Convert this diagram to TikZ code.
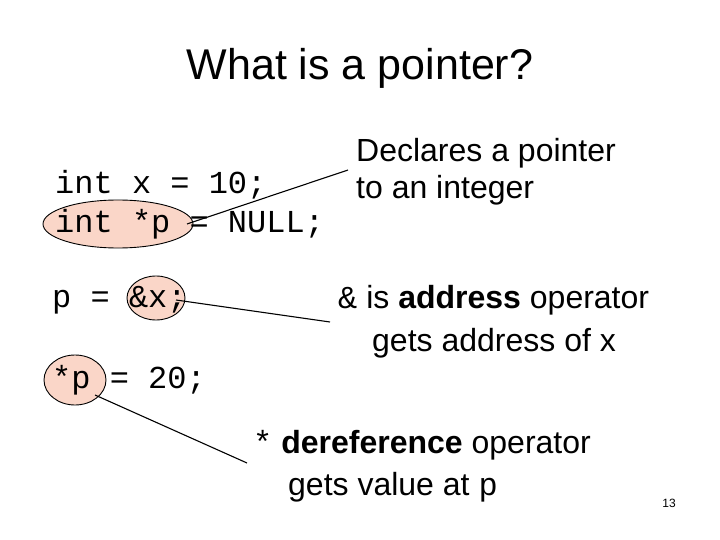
\documentclass[tikz,border=0pt]{standalone}
\usepackage{fontspec}
\setmainfont{Liberation Sans}
\newfontfamily\mono{Liberation Mono}
\definecolor{hlpink}{RGB}{250,214,200}
\begin{document}
\begin{tikzpicture}[x=1pt,y=-1pt,
  code/.style={anchor=west,inner sep=0,font=\fontsize{32}{34}\selectfont\mono},
  txt/.style={anchor=west,inner sep=0,font=\fontsize{32}{35}\selectfont},
  hl/.style={draw=black,fill=hlpink,line width=0.9pt},
  lead/.style={draw=black,line width=1.1pt}]
\useasboundingbox (0,0) rectangle (720,540);
\fill[white] (0,0) rectangle (720,540);
\node[inner sep=0,font=\fontsize{43}{46}\selectfont] (title) at (360,68) {What is a pointer?};
\draw[hl] (118,224) ellipse [x radius=75,y radius=24];
\draw[hl] (156,298) ellipse [x radius=29,y radius=22];
\draw[hl] (75,380) ellipse [x radius=31,y radius=25];
\node[code] (c1) at (55,185) {int x = 10;};
\node[code] (c2) at (55,224) {int *p = NULL;};
\node[code] (c3) at (52,300) {p = \&x;};
\node[code] (c4) at (52,380) {*p = 20;};
\node[txt] (d1) at (356,153) {Declares a pointer};
\node[txt] (d2) at (356,190) {to an integer};
\node[txt] (a1) at (338,300) {{\mono\&} is \textbf{address} operator};
\node[txt] (a2) at (372,343) {gets address of x};
\node[txt] (r1) at (253,445) {{\mono*} \textbf{dereference} operator};
\node[txt] (r2) at (288,487) {gets value at {\mono p}};
\node[inner sep=0,font=\fontsize{12}{14}\selectfont] (num) at (669,503) {13};
\coordinate (e1) at (187,224);
\coordinate (e2) at (176,300);
\coordinate (e3) at (95,395);
\draw[lead] (e1) -- (348,170);
\draw[lead] (e2) -- (330,322);
\draw[lead] (e3) -- (247,463);
\end{tikzpicture}
\end{document}
